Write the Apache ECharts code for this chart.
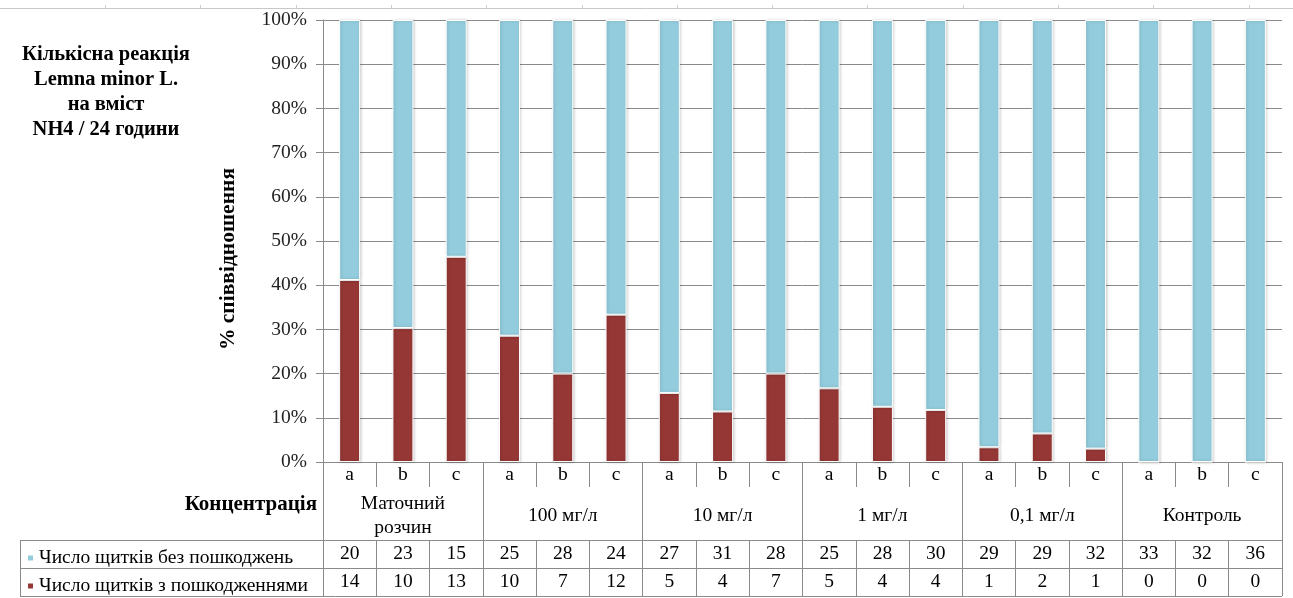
<!DOCTYPE html>
<html>
<head>
<meta charset="utf-8">
<script src="https://cdn.jsdelivr.net/npm/echarts@6/dist/echarts.min.js"></script>
<style>
  html, body { margin: 0; padding: 0; background: #fff; }
  #chart { width: 1293px; height: 598px; }
</style>
</head>
<body>
<div id="chart"></div>
<script>
// Replicates a, b, c for each concentration
const replicates = ['a', 'b', 'c', 'a', 'b', 'c', 'a', 'b', 'c', 'a', 'b', 'c', 'a', 'b', 'c', 'a', 'b', 'c'];
const groups = ['Маточний\nрозчин', '100 мг/л', '10 мг/л', '1 мг/л', '0,1 мг/л', 'Контроль'];
// Fronds counted per replicate
const undamaged = [20, 23, 15, 25, 28, 24, 27, 31, 28, 25, 28, 30, 29, 29, 32, 33, 32, 36];
const damaged   = [14, 10, 13, 10, 7, 12, 5, 4, 7, 5, 4, 4, 1, 2, 1, 0, 0, 0];
const seriesNames = ['Число щитків без пошкоджень', 'Число щитків з пошкодженнями'];
const yTicks = [0, 10, 20, 30, 40, 50, 60, 70, 80, 90, 100];

// Share of each frond class within a replicate, in percent
const totals = undamaged.map((u, i) => u + damaged[i]);
const damagedPct = damaged.map((d, i) => d / totals[i] * 100);
const undamagedPct = undamaged.map((u, i) => u / totals[i] * 100);

const FONT = '"Liberation Serif", "Times New Roman", serif';
const GRID_COLOR = '#8a8a8a';
const BLUE = '#93cddd';
const RED = '#953735';
const TABLE_FS = 19.5;

const chart = echarts.init(document.getElementById('chart'), null, { renderer: 'canvas' });

const G = { left: 323, right: 11, top: 20, bottom: 136 };
const tableLeft = 20;
const tableRight = 1293 - G.right;
const baseY = 598 - G.bottom;     // 0% line
const rowMid = baseY + 78;        // line above first data row
const rowLow = rowMid + 28;       // line between data rows
const rowEnd = rowLow + 28;       // bottom of table

const barStyle = (color) => ({
  color: color,
  borderColor: '#ffffff',
  borderWidth: 1,
  shadowColor: 'rgba(0,0,0,0.22)',
  shadowBlur: 3,
  shadowOffsetX: 1
});

const thinLine = { color: GRID_COLOR, width: 1 };

// decorative rule along the very top edge
const rulerTicks = [];
for (let x = 105; x < 1293; x += 95.3) {
  rulerTicks.push({ type: 'line', silent: true,
    shape: { x1: Math.round(x) + 0.5, y1: 5, x2: Math.round(x) + 0.5, y2: 8 },
    style: { stroke: '#cfcfcf', lineWidth: 1 } });
}

// one legend entry per table row
const legendRow = (name, top) => ({
  data: [name],
  left: 21,
  top: top,
  itemWidth: 7,
  itemHeight: 7,
  icon: 'rect',
  selectedMode: false,
  textStyle: { fontFamily: FONT, fontSize: TABLE_FS, color: '#000' }
});

chart.setOption({
  animation: false,
  textStyle: { fontFamily: FONT },
  title: {
    text: 'Кількісна реакція\nLemna minor L.\nна вміст\nNH4 / 24 години',
    left: 101,
    top: 37,
    textAlign: 'center',
    textStyle: { fontFamily: FONT, fontSize: 20.5, fontWeight: 'bold', color: '#000', lineHeight: 25 }
  },
  legend: [
    legendRow(seriesNames[0], rowMid + 3),
    legendRow(seriesNames[1], rowLow + 3)
  ],
  grid: { left: G.left, right: G.right, top: G.top, bottom: G.bottom, containLabel: false },
  xAxis: [
    {
      type: 'category',
      data: replicates,
      position: 'bottom',
      axisLine: { show: true, lineStyle: thinLine },
      axisTick: { show: true, length: 25, lineStyle: thinLine },
      axisLabel: { fontFamily: FONT, fontSize: TABLE_FS, color: '#000', margin: 13, verticalAlign: 'middle' }
    },
    {
      type: 'category',
      data: groups,
      position: 'bottom',
      offset: 0,
      axisLine: { show: false },
      axisTick: { show: true, length: 78, lineStyle: thinLine },
      axisLabel: { fontFamily: FONT, fontSize: TABLE_FS, color: '#000', margin: 54, verticalAlign: 'middle', lineHeight: 24 }
    },
    {
      type: 'category',
      data: replicates,
      position: 'bottom',
      offset: 78,
      axisLine: { show: true, lineStyle: thinLine },
      axisTick: { show: true, length: 28, lineStyle: thinLine },
      axisLabel: { fontFamily: FONT, fontSize: TABLE_FS, color: '#000', margin: 14, verticalAlign: 'middle',
        formatter: (v, i) => String(undamaged[i]) }
    },
    {
      type: 'category',
      data: replicates,
      position: 'bottom',
      offset: 106,
      axisLine: { show: true, lineStyle: thinLine },
      axisTick: { show: true, length: 28, lineStyle: thinLine },
      axisLabel: { fontFamily: FONT, fontSize: TABLE_FS, color: '#000', margin: 14, verticalAlign: 'middle',
        formatter: (v, i) => String(damaged[i]) }
    }
  ],
  yAxis: {
    type: 'value',
    min: yTicks[0],
    max: yTicks[yTicks.length - 1],
    interval: yTicks[1] - yTicks[0],
    axisLine: { show: true, lineStyle: thinLine },
    axisTick: { show: true, length: 7, lineStyle: thinLine },
    axisLabel: { fontFamily: FONT, fontSize: 19.5, color: '#222', margin: 16, formatter: '{value}%' },
    splitLine: { show: true, lineStyle: thinLine }
  },
  series: [
    {
      name: seriesNames[1],
      type: 'bar',
      stack: 'share',
      xAxisIndex: 0,
      barWidth: 21,
      data: damagedPct,
      itemStyle: barStyle(RED)
    },
    {
      name: seriesNames[0],
      type: 'bar',
      stack: 'share',
      xAxisIndex: 0,
      barWidth: 21,
      data: undamagedPct,
      itemStyle: barStyle(BLUE)
    }
  ],
  graphic: [
    { type: 'line', silent: true, shape: { x1: 0, y1: 8.5, x2: 1293, y2: 8.5 }, style: { stroke: '#c8c8c8', lineWidth: 1 } },
    ...rulerTicks,
    {
      type: 'text', silent: true, x: 228, y: 259, rotation: Math.PI / 2,
      style: { text: '% співвідношення', font: 'bold 21.5px ' + FONT, fill: '#000', align: 'center', verticalAlign: 'middle' }
    },
    {
      type: 'text', silent: true, x: 317, y: 505,
      style: { text: 'Концентрація', font: 'bold 21px ' + FONT, fill: '#000', align: 'right', verticalAlign: 'middle' }
    },
    // borders of the legend column of the data table
    { type: 'line', silent: true, shape: { x1: tableLeft, y1: rowMid + 0.5, x2: G.left, y2: rowMid + 0.5 }, style: { stroke: GRID_COLOR, lineWidth: 1 } },
    { type: 'line', silent: true, shape: { x1: tableLeft, y1: rowLow + 0.5, x2: G.left, y2: rowLow + 0.5 }, style: { stroke: GRID_COLOR, lineWidth: 1 } },
    { type: 'line', silent: true, shape: { x1: tableLeft, y1: rowEnd + 0.5, x2: tableRight, y2: rowEnd + 0.5 }, style: { stroke: GRID_COLOR, lineWidth: 1 } },
    { type: 'line', silent: true, shape: { x1: tableLeft + 0.5, y1: rowMid, x2: tableLeft + 0.5, y2: rowEnd }, style: { stroke: GRID_COLOR, lineWidth: 1 } },
    { type: 'line', silent: true, shape: { x1: G.left + 0.5, y1: rowMid, x2: G.left + 0.5, y2: rowEnd }, style: { stroke: GRID_COLOR, lineWidth: 1 } }
  ]
});
</script>
</body>
</html>
